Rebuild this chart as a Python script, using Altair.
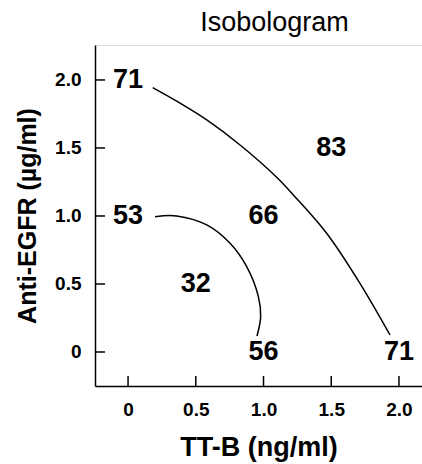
import altair as alt
import pandas as pd

# Labels (response values) at grid points
lab_x = [0, 1.5, 0, 1.0, 0.5, 1.0, 2.0]
lab_y = [2.0, 1.5, 1.0, 1.0, 0.5, 0, 0]
lab_t = ["71", "83", "53", "66", "32", "56", "71"]

# Isobole curves
outer_x = [0.182, 0.384, 0.581, 0.827, 1.097, 1.22, 1.466, 1.712, 1.934]
outer_y = [1.943, 1.829, 1.706, 1.522, 1.285, 1.155, 0.873, 0.505, 0.125]
inner_x = [0.199, 0.359, 0.581, 0.753, 0.876, 0.962, 0.979, 0.952]
inner_y = [0.995, 1.0, 0.934, 0.799, 0.627, 0.407, 0.26, 0.118]

x_ticks = [0, 0.5, 1.0, 1.5, 2.0]
y_ticks = [0, 0.5, 1.0, 1.5, 2.0]

FONT = "Liberation Sans"

labels = pd.DataFrame({"x": lab_x, "y": lab_y, "t": lab_t})
curves = pd.DataFrame({
    "x": outer_x + inner_x,
    "y": outer_y + inner_y,
    "curve": ["outer"] * len(outer_x) + ["inner"] * len(inner_x),
    "order": list(range(len(outer_x))) + list(range(len(inner_x))),
})
xt = pd.DataFrame({"v": x_ticks})
yt = pd.DataFrame({"v": y_ticks})

W, H = 327, 341
xs = alt.Scale(domain=[-0.244, 2.17], nice=False, zero=False)
ys = alt.Scale(domain=[-0.25, 2.257], nice=False, zero=False)

label_expr = "datum.value == 0 ? '0' : format(datum.value, '.1f')"

xaxis = alt.Axis(values=x_ticks, labelExpr=label_expr, ticks=False, grid=False,
                 domainColor="black", domainWidth=1.5, labelFont=FONT, labelFontSize=19,
                 labelFontWeight="bold", labelColor="black", labelPadding=14,
                 title="TT-B (ng/ml)", titleFont=FONT, titleFontSize=27, titleFontWeight="bold",
                 titleColor="black", titlePadding=15)
yaxis = alt.Axis(values=y_ticks, labelExpr=label_expr, ticks=False, grid=False,
                 domainColor="black", domainWidth=1.5, labelFont=FONT, labelFontSize=19,
                 labelFontWeight="bold", labelColor="black", labelPadding=14,
                 title="Anti-EGFR (µg/ml)", titleFont=FONT, titleFontSize=25, titleFontWeight="bold",
                 titleColor="black", titlePadding=14)

curve_layer = alt.Chart(curves).mark_line(color="black", strokeWidth=1.5, interpolate="catmull-rom").encode(
    x=alt.X("x:Q", scale=xs, axis=xaxis),
    y=alt.Y("y:Q", scale=ys, axis=yaxis),
    detail="curve:N",
    order="order:Q",
)

text_layer = alt.Chart(labels).mark_text(font=FONT, fontSize=27, fontWeight="bold", color="black",
                                          baseline="middle", align="center").encode(
    x=alt.X("x:Q", scale=xs), y=alt.Y("y:Q", scale=ys), text="t:N")

xtick_layer = alt.Chart(xt).mark_rule(color="black", strokeWidth=1.5).encode(
    x=alt.X("v:Q", scale=xs), y=alt.value(H), y2=alt.value(H - 10))
ytick_layer = alt.Chart(yt).mark_rule(color="black", strokeWidth=1.5).encode(
    y=alt.Y("v:Q", scale=ys), x=alt.value(0), x2=alt.value(10))

chart = alt.layer(curve_layer, text_layer, xtick_layer, ytick_layer).properties(
    width=W, height=H,
    title=alt.TitleParams("Isobologram", font=FONT, fontSize=27, fontWeight="normal",
                          color="black", anchor="middle", offset=8, dx=16),
    autosize=alt.AutoSizeParams(type="none"),
    padding={"left": 95, "top": 45, "right": 0, "bottom": 78},
).configure_view(stroke=None).configure(background="white")

chart.save("out.html", embed_options={"renderer": "svg", "actions": False})
